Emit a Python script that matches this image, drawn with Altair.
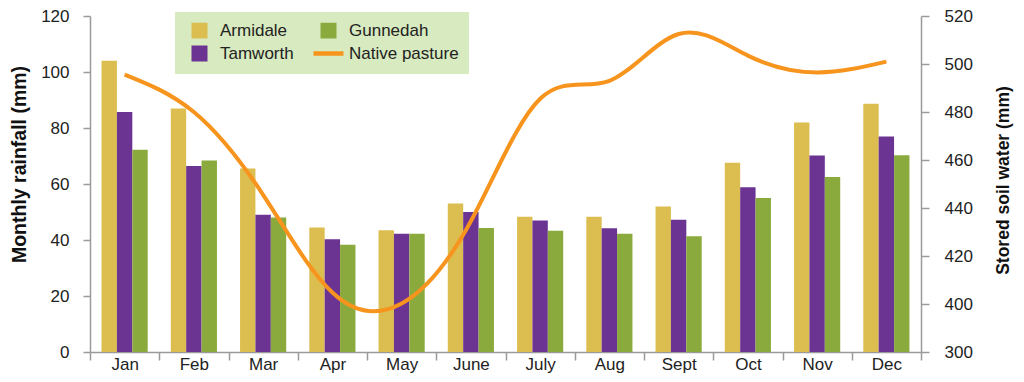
import altair as alt
import pandas as pd

months = ["Jan", "Feb", "Mar", "Apr", "May", "June", "July", "Aug", "Sept", "Oct", "Nov", "Dec"]
armidale = [104, 87, 65.5, 44.5, 43.5, 53, 48.3, 48.3, 52, 67.6, 82, 88.7]
tamworth = [85.7, 66.4, 49, 40.3, 42.2, 50, 47, 44.2, 47.2, 58.8, 70.2, 77]
gunnedah = [72.2, 68.4, 48, 38.3, 42.2, 44.3, 43.3, 42.2, 41.3, 55, 62.5, 70.3]
soil_water = [495.6, 480, 445.5, 404.8, 400.2, 434.5, 485.5, 493, 512.5, 503.5, 496.5, 501]

stations = ["Armidale", "Tamworth", "Gunnedah"]
legend_order = ["Armidale", "Tamworth", "Gunnedah", "Native pasture"]
colors = ["#DCBE50", "#6B3493", "#8BAA3E", "#F7941D"]

rows = []
for name, vals in zip(stations, [armidale, tamworth, gunnedah]):
    for m, v in zip(months, vals):
        rows.append({"month": m, "station": name, "rain": v})
bars_df = pd.DataFrame(rows)
line_df = pd.DataFrame({"month": months, "soil": soil_water, "station": "Native pasture"})

FONT = "Liberation Sans"
IS_LINE = "datum.value === 'Native pasture'"

legend = alt.Legend(
    title=None,
    orient="none",
    legendX=85,
    legendY=-4,
    columns=2,
    fillColor="#D8EABF",
    padding=10,
    columnPadding=10,
    rowPadding=2,
    labelFont=FONT,
    labelFontSize=17,
    labelColor="#222222",
    labelOffset=12,
    symbolOffset=6,
    symbolType=alt.ExprRef(f"{IS_LINE} ? 'stroke' : 'square'"),
    symbolSize=alt.ExprRef(f"{IS_LINE} ? 900 : 210"),
    symbolStrokeColor=alt.ExprRef(f"{IS_LINE} ? '#F7941D' : '#ffffff'"),
    symbolStrokeWidth=alt.ExprRef(f"{IS_LINE} ? 4.5 : 1.5"),
    symbolOpacity=1,
)

color_scale = alt.Scale(domain=legend_order, range=colors)

x_enc = alt.X(
    "month:N",
    sort=months,
    scale=alt.Scale(paddingInner=0, paddingOuter=0),
    axis=alt.Axis(
        title=None,
        tickBand="extent",
        labelAngle=0,
        labelFont=FONT,
        labelFontSize=17,
        labelColor="#222222",
        tickSize=8,
        labelPadding=-4,
    ),
)

bars = alt.Chart(bars_df).mark_bar().encode(
    x=x_enc,
    xOffset=alt.XOffset(
        "station:N",
        sort=stations,
        scale=alt.Scale(paddingInner=0, paddingOuter=0.75),
    ),
    y=alt.Y(
        "rain:Q",
        scale=alt.Scale(domain=[0, 120], nice=False),
        axis=alt.Axis(
            title="Monthly rainfall (mm)",
            values=[0, 20, 40, 60, 80, 100, 120],
            orient="left",
            labelFont=FONT,
            labelFontSize=17,
            labelColor="#222222",
            tickSize=7,
            labelPadding=14,
            titleFont=FONT,
            titleFontSize=19.5,
            titleFontWeight="bold",
            titleColor="#111111",
            titleX=-71,
            titleY=148,
            titleBaseline="middle",
            titleAngle=270,
        ),
    ),
    color=alt.Color("station:N", scale=color_scale, legend=legend),
)

line = alt.Chart(line_df).mark_line(strokeWidth=4, interpolate="natural").encode(
    x=alt.X("month:N", sort=months),
    y=alt.Y(
        "soil:Q",
        scale=alt.Scale(domain=[380, 520], nice=False, zero=False),
        axis=alt.Axis(
            title="Stored soil water (mm)",
            values=[380, 400, 420, 440, 460, 480, 500, 520],
            labelExpr="datum.value == 380 ? '300' : datum.label",
            orient="right",
            labelFont=FONT,
            labelFontSize=17,
            labelColor="#222222",
            tickSize=8,
            labelPadding=15,
            titleFont=FONT,
            titleFontSize=17.5,
            titleFontWeight="bold",
            titleColor="#111111",
            titleX=82,
            titleY=164,
            titleBaseline="middle",
            titleAngle=270,
        ),
    ),
    color=alt.Color("station:N", scale=color_scale, legend=legend),
)

chart = (
    alt.layer(bars, line)
    .resolve_scale(y="independent")
    .properties(
        width=831,
        height=336,
        autosize=alt.AutoSizeParams(type="none"),
        padding={"left": 82, "top": 8, "right": 95, "bottom": 22},
    )
    .configure_view(stroke=None)
    .configure_axis(
        grid=False,
        domainColor="#9A9A9A",
        tickColor="#9A9A9A",
        domainWidth=1.5,
        tickWidth=1.5,
    )
)

chart.save("out.html", embed_options={"renderer": "svg", "actions": False})
